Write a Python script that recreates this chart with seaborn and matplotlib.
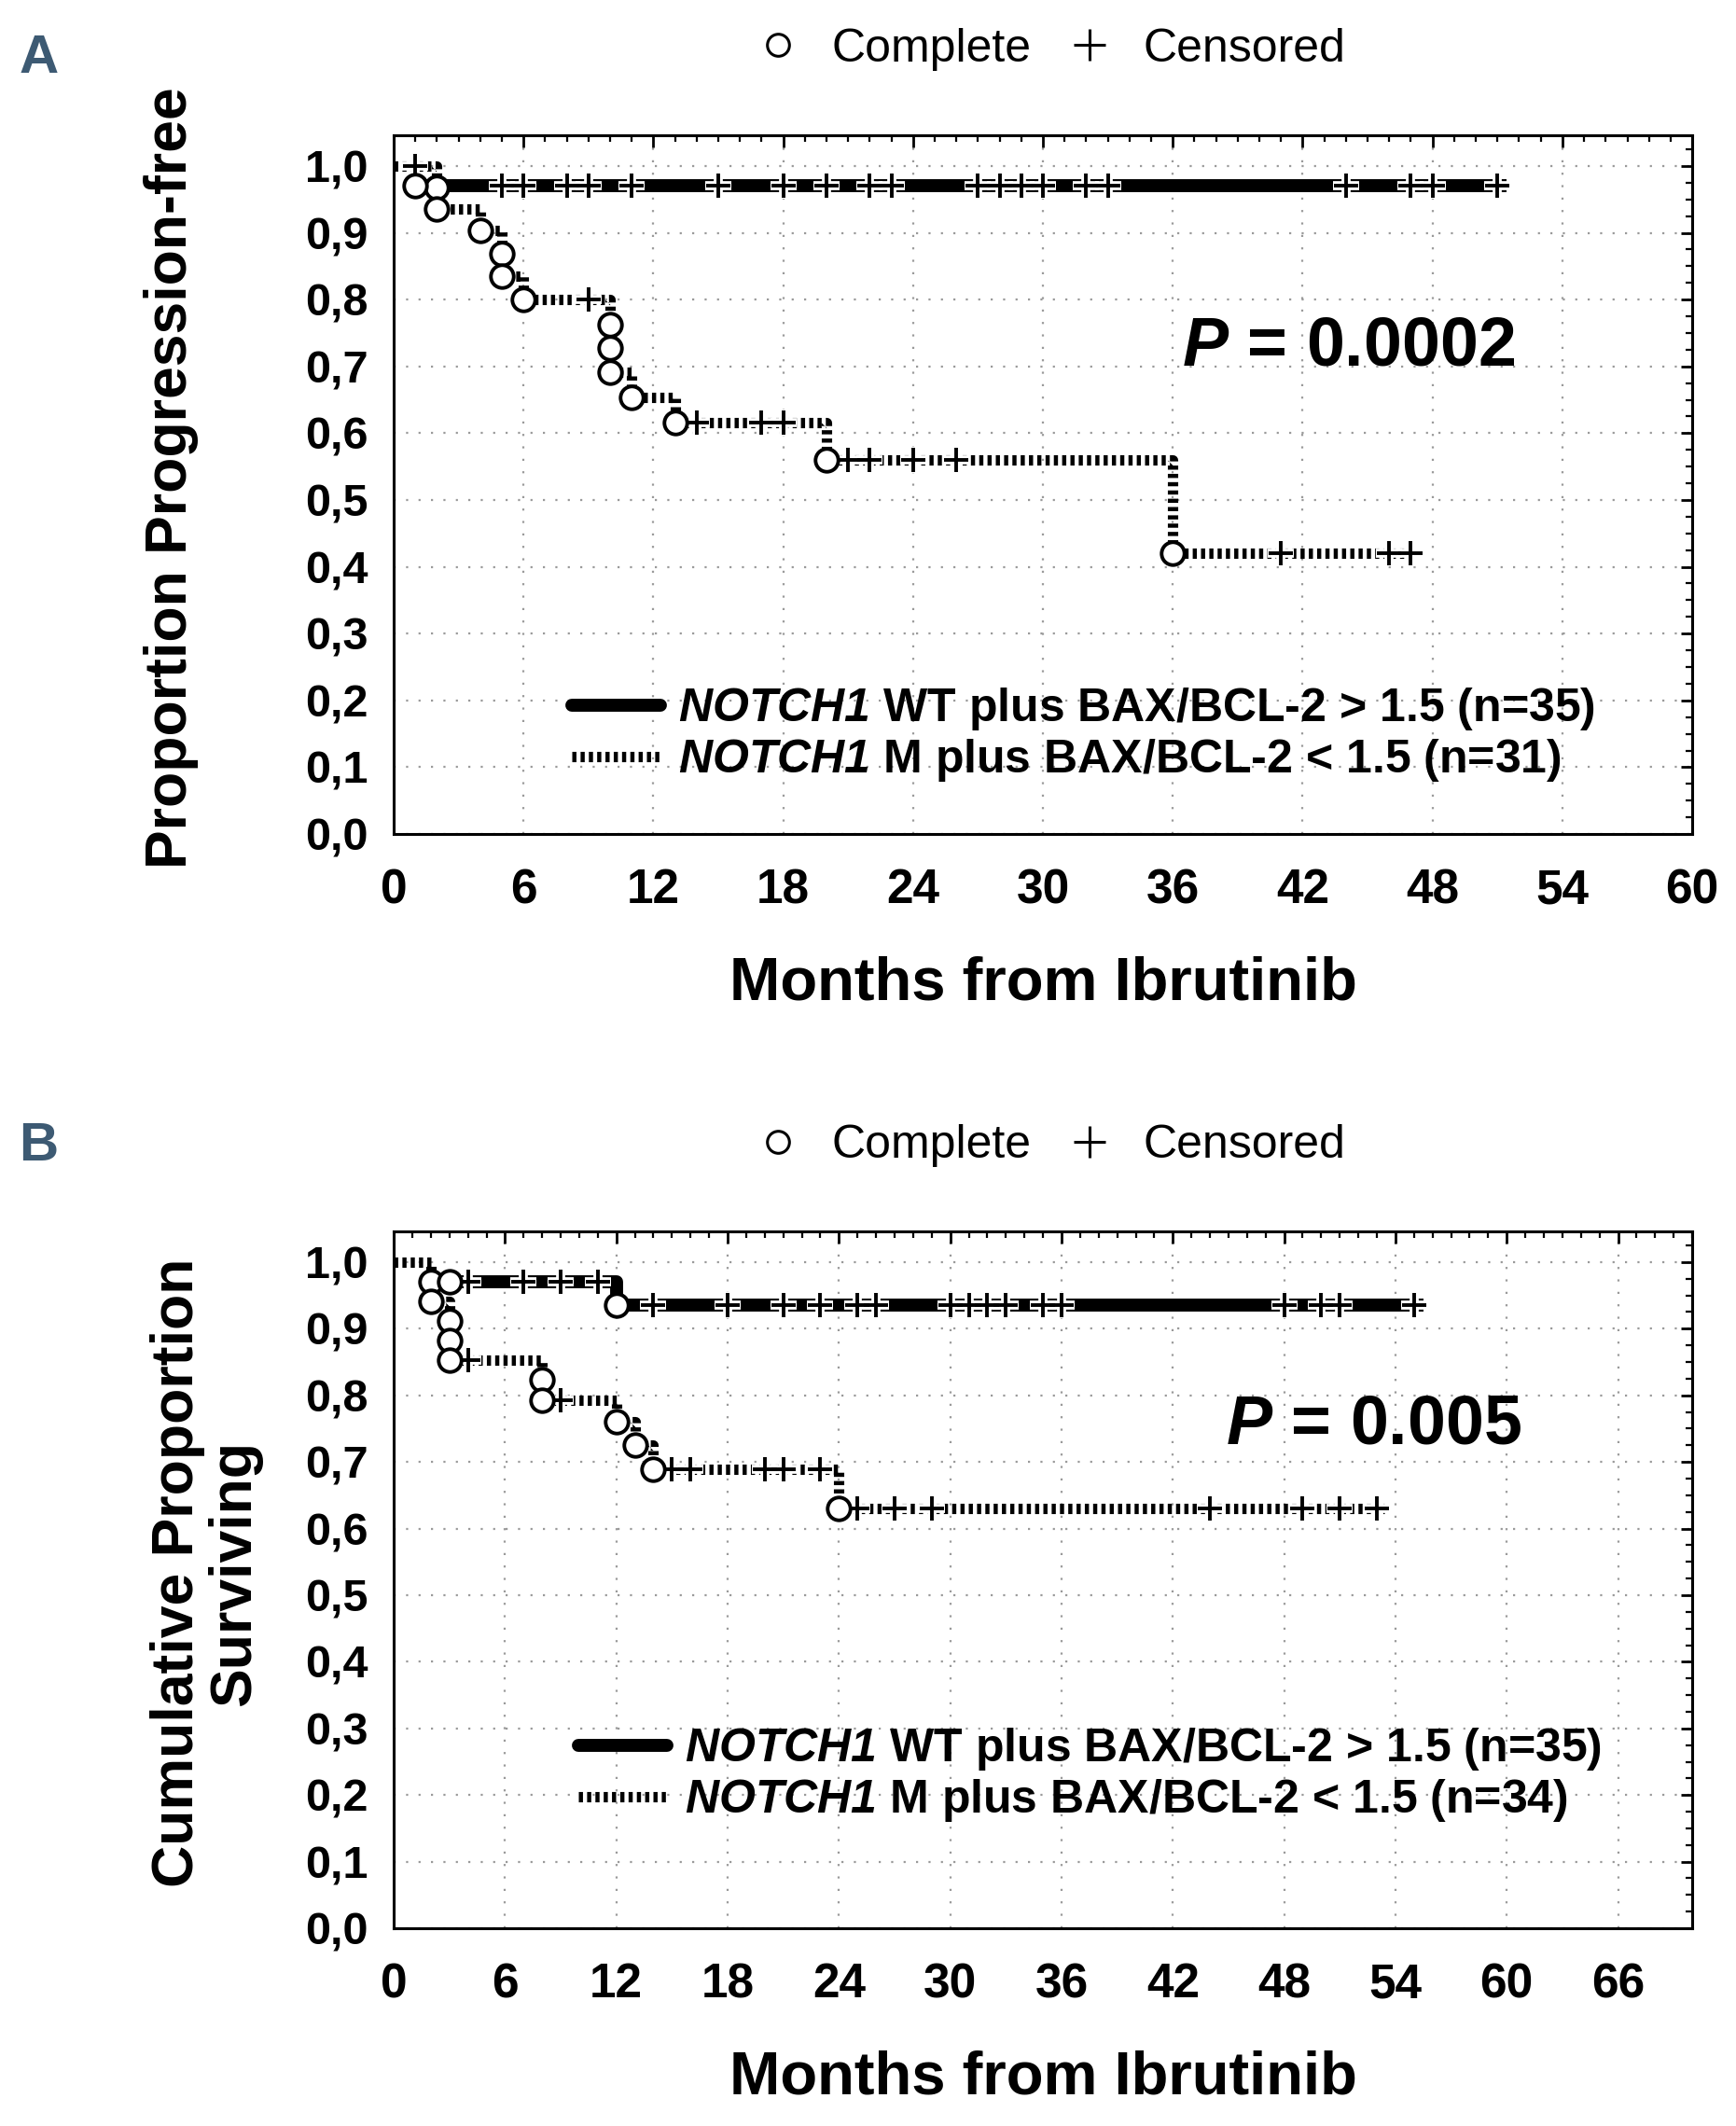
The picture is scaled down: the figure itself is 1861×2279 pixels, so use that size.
import numpy as np
import matplotlib
matplotlib.use('Agg')
import matplotlib.pyplot as plt
import seaborn as sns
from matplotlib import font_manager
from matplotlib.lines import Line2D
from matplotlib.ticker import MultipleLocator, FuncFormatter

# ---- data ----
# panel A: progression-free
a_wt_event_t = [1]
a_wt_event_s = [0.971]
a_wt_cens_t = [5, 6, 8, 9, 11, 15, 18, 20, 22, 23, 27, 28, 29, 30, 32, 33, 44, 47, 48, 51]
a_wt_end = 51.4

a_m_event_t = [2, 2, 4, 5, 5, 6, 10, 10, 10, 11, 13, 20, 36]
a_m_event_s = [0.968, 0.935, 0.903, 0.868, 0.835, 0.800, 0.763, 0.727, 0.691, 0.654, 0.616, 0.560, 0.420]
a_m_cens_t = [1, 9, 14, 17, 18, 21, 22, 24, 26, 41, 46, 47]
a_m_end = 47.2

# panel B: overall survival
b_wt_event_t = [3, 12]
b_wt_event_s = [0.971, 0.936]
b_wt_cens_t = [4, 7, 9, 11, 14, 18, 21, 23, 25, 26, 30, 31, 32, 33, 35, 36, 48, 50, 51, 55]
b_wt_end = 55.5

b_m_event_t = [2, 2, 3, 3, 3, 8, 8, 12, 13, 14, 24]
b_m_event_s = [0.971, 0.941, 0.912, 0.882, 0.853, 0.823, 0.792, 0.760, 0.726, 0.689, 0.630]
b_m_cens_t = [4, 9, 15, 16, 20, 21, 23, 25, 27, 29, 44, 49, 51, 53]
b_m_end = 53.4

labels_a = [r"$\mathbfit{NOTCH1}$ WT plus BAX/BCL-2 > 1.5 (n=35)",
            r"$\mathbfit{NOTCH1}$ M plus BAX/BCL-2 < 1.5 (n=31)"]
labels_b = [r"$\mathbfit{NOTCH1}$ WT plus BAX/BCL-2 > 1.5 (n=35)",
            r"$\mathbfit{NOTCH1}$ M plus BAX/BCL-2 < 1.5 (n=34)"]
p_a = r"$\mathit{P}$ = 0.0002"
p_b = r"$\mathit{P}$ = 0.005"

sns.set_style('white')
names = {f.name for f in font_manager.fontManager.ttflist}
narrow = 'Liberation Sans Narrow' if 'Liberation Sans Narrow' in names else 'Liberation Sans'
plt.rcParams['font.family'] = ['Liberation Sans', 'DejaVu Sans']
plt.rcParams['text.color'] = 'black'
plt.rcParams['axes.labelcolor'] = 'black'
plt.rcParams['xtick.color'] = 'black'
plt.rcParams['ytick.color'] = 'black'
plt.rcParams['mathtext.fontset'] = 'custom'
plt.rcParams['mathtext.it'] = 'Liberation Sans:italic:bold'
plt.rcParams['mathtext.bfit'] = narrow + ':italic:bold'
plt.rcParams['mathtext.rm'] = 'Liberation Sans'
plt.rcParams['mathtext.bf'] = 'Liberation Sans:bold'

WT_LW = 10
M_LW = 8
M_LS = (0, (0.4, 0.4))


def level_at(times, event_t, event_s):
    idx = np.searchsorted(event_t, times, side='right')
    levels = np.array([1.0] + list(event_s))
    return levels[idx]


def draw_curve(ax, event_t, event_s, cens_t, end, solid):
    if solid:
        # the solid curve is drawn from its first event on
        xs = list(event_t) + [end]
        ys = list(event_s) + [event_s[-1]]
        sns.lineplot(x=xs, y=ys, ax=ax, drawstyle='steps-post', color='black', linewidth=WT_LW,
                     estimator=None, sort=False, solid_capstyle='butt', zorder=3)
    else:
        xs = [0] + list(event_t) + [end]
        ys = [1.0] + list(event_s) + [event_s[-1]]
        sns.lineplot(x=xs, y=ys, ax=ax, drawstyle='steps-post', color='black', linewidth=M_LW,
                     linestyle=M_LS, estimator=None, sort=False, zorder=2)
    cy = level_at(cens_t, event_t, event_s)
    sns.scatterplot(x=cens_t, y=cy, ax=ax, marker='+', s=400, color='white', linewidth=7, zorder=5)
    sns.scatterplot(x=cens_t, y=cy, ax=ax, marker='+', s=370, color='black', linewidth=2.8, zorder=6)
    sns.scatterplot(x=event_t, y=event_s, ax=ax, marker='o', s=310, color='white',
                    edgecolor='black', linewidth=2.8, zorder=7)


def style_axes(ax, xmax, xticks, ylabel, ylabel_x):
    ax.set_xlim(0, xmax)
    ax.set_ylim(0, 1.046)
    ax.set_xticks(xticks)
    ax.xaxis.set_minor_locator(MultipleLocator(1))
    ax.yaxis.set_major_locator(MultipleLocator(0.1))
    ax.yaxis.set_minor_locator(MultipleLocator(0.025))
    ax.yaxis.set_major_formatter(FuncFormatter(lambda v, _: f"{v:.1f}".replace('.', ',')))
    ax.grid(True, which='major', color='#9a9a9a', linestyle=(0, (1, 5)), linewidth=1.6)
    ax.tick_params(which='both', direction='in', top=True, right=True, color='black')
    ax.tick_params(which='major', length=9, width=2)
    ax.tick_params(which='minor', length=5, width=1.6)
    ax.tick_params(axis='x', pad=26)
    ax.tick_params(axis='y', pad=20)
    for lab in ax.get_xticklabels():
        lab.set_fontfamily(narrow)
        lab.set_fontweight('bold')
        lab.set_fontsize(37)
    for lab in ax.get_yticklabels():
        lab.set_fontfamily('Liberation Sans')
        lab.set_fontweight('bold')
        lab.set_fontsize(35)
    for sp in ax.spines.values():
        sp.set_color('black')
        sp.set_linewidth(2.2)
    ax.set_xlabel('Months from Ibrutinib', fontfamily=narrow, fontweight='bold', fontsize=47, labelpad=33)
    ax.set_ylabel(ylabel, fontfamily=narrow, fontweight='bold', fontsize=45, linespacing=1.05)
    ax.yaxis.set_label_coords(ylabel_x, 0.51)


def add_legends(ax, labels, anchor):
    h = [Line2D([], [], color='black', linewidth=WT_LW, solid_capstyle='round'),
         Line2D([], [], color='black', linewidth=M_LW, linestyle=M_LS)]
    leg = ax.legend(h, labels, loc='lower left', bbox_to_anchor=anchor, frameon=False,
                    prop={'family': narrow, 'weight': 'bold', 'size': 36},
                    handlelength=1.9, handletextpad=0.38, labelspacing=0.1, borderaxespad=0)
    ax.add_artist(leg)
    h2 = [Line2D([], [], color='black', marker='o', linestyle='none', markersize=17,
                 markerfacecolor='white', markeredgewidth=2.2),
          Line2D([], [], color='black', marker='+', linestyle='none', markersize=24,
                 markeredgewidth=2.2)]
    ax.legend(h2, ['Complete', 'Censored'], loc='center', bbox_to_anchor=(0.508, 1.123), ncol=2,
              frameon=False, prop={'family': 'Liberation Sans', 'size': 36},
              handlelength=0.7, handletextpad=0.8, columnspacing=0.9, borderaxespad=0)


fig = plt.figure(figsize=(18.61, 22.79), dpi=100)
ax_a = fig.add_axes([0.2268, 0.6077, 0.748, 0.3287])
ax_b = fig.add_axes([0.2268, 0.0930, 0.748, 0.3278])

draw_curve(ax_a, a_m_event_t, a_m_event_s, a_m_cens_t, a_m_end, solid=False)
draw_curve(ax_a, a_wt_event_t, a_wt_event_s, a_wt_cens_t, a_wt_end, solid=True)
draw_curve(ax_b, b_m_event_t, b_m_event_s, b_m_cens_t, b_m_end, solid=False)
draw_curve(ax_b, b_wt_event_t, b_wt_event_s, b_wt_cens_t, b_wt_end, solid=True)

style_axes(ax_a, 60, np.arange(0, 61, 6), 'Proportion Progression-free', -0.150)
style_axes(ax_b, 70, np.arange(0, 67, 6), 'Cumulative Proportion\nSurviving', -0.101)

add_legends(ax_a, labels_a, (0.123, 0.045))
add_legends(ax_b, labels_b, (0.128, 0.123))

ax_a.text(0.735, 0.697, p_a, transform=ax_a.transAxes, ha='center', va='center',
          fontfamily='Liberation Sans', fontweight='bold', fontsize=53)
ax_b.text(0.755, 0.722, p_b, transform=ax_b.transAxes, ha='center', va='center',
          fontfamily='Liberation Sans', fontweight='bold', fontsize=53)

fig.text(0.011, 0.9725, 'A', fontfamily=narrow, fontweight='bold', fontsize=42, color='#3d5a73',
         ha='left', va='center')
fig.text(0.011, 0.4607, 'B', fontfamily=narrow, fontweight='bold', fontsize=42, color='#3d5a73',
         ha='left', va='center')

fig.savefig('out.png', dpi=100)
